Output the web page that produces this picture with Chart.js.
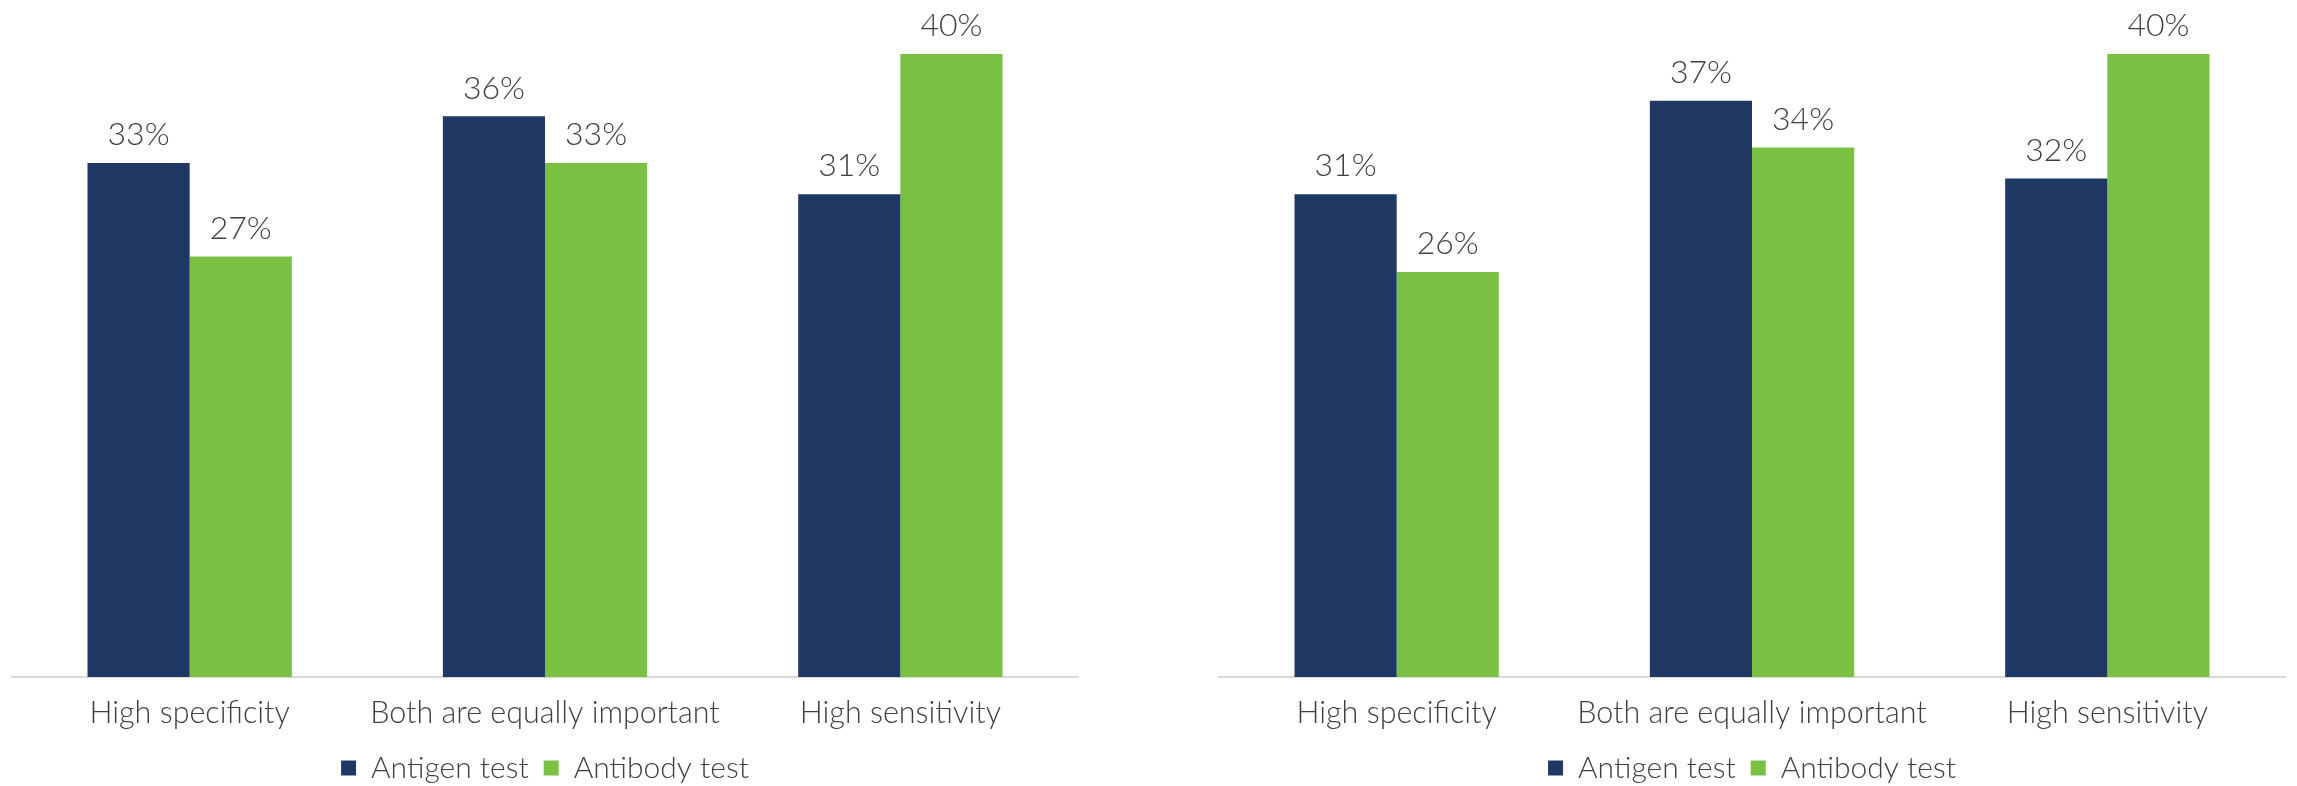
<!DOCTYPE html>
<html lang="en">
<head>
    <meta charset="UTF-8">
    <title>Antigen vs antibody test</title>
    <script src="https://cdn.jsdelivr.net/npm/chart.js"></script>
    <style>
        body { margin: 0; background: #fff; }
        .box { position: absolute; top: 0; height: 786px; }
    </style>
</head>
<body>
    <div class="box" style="left: 0; width: 1090px;"><canvas id="chartLeft"></canvas></div>
    <div class="box" style="left: 1207px; width: 1090px;"><canvas id="chartRight"></canvas></div>

    <script>
        const categories = ['High specificity', 'Both are equally important', 'High sensitivity'];
        const seriesNames = ['Antigen test', 'Antibody test'];

        // left panel
        const leftAntigen = [33, 36, 31];
        const leftAntibody = [27, 33, 40];
        // right panel
        const rightAntigen = [31, 37, 32];
        const rightAntibody = [26, 34, 40];

        const NAVY = '#1f3864';
        const GREEN = '#7ac143';
        const TEXT = '#404040';
        const FONT = 'Lato, "Open Sans", sans-serif';

        // draws the % above each bar
        const valueLabels = {
            id: 'valueLabels',
            afterDatasetsDraw(chart) {
                const ctx = chart.ctx;
                ctx.save();
                ctx.font = '300 32px ' + FONT;
                ctx.fillStyle = TEXT;
                ctx.textAlign = 'center';
                ctx.textBaseline = 'bottom';
                chart.data.datasets.forEach((ds, i) => {
                    chart.getDatasetMeta(i).data.forEach((bar, j) => {
                        ctx.fillText(ds.data[j] + '%', bar.x, bar.y - 12);
                    });
                });
                ctx.restore();
            }
        };

        function makeChart(id, antigen, antibody) {
            return new Chart(document.getElementById(id), {
                type: 'bar',
                data: {
                    labels: categories,
                    datasets: [
                        { label: seriesNames[0], data: antigen, backgroundColor: NAVY },
                        { label: seriesNames[1], data: antibody, backgroundColor: GREEN }
                    ]
                },
                options: {
                    responsive: true,
                    maintainAspectRatio: false,
                    animation: false,
                    layout: { padding: { top: 54, left: 12, right: 12, bottom: -7 } },
                    datasets: { bar: { barPercentage: 1, categoryPercentage: 0.575 } },
                    scales: {
                        x: {
                            grid: { display: false, drawTicks: false },
                            border: { color: '#d9d9d9', width: 2 },
                            ticks: {
                                color: TEXT, padding: 18, maxRotation: 0, minRotation: 0, autoSkip: false,
                                font: { family: FONT, size: 30.5, weight: 300 }
                            },
                            afterFit(scale) { scale.height = 61; }
                        },
                        y: { display: false, min: 0, max: 40 }
                    },
                    plugins: {
                        legend: {
                            position: 'bottom',
                            labels: {
                                color: TEXT,
                                boxWidth: 15,
                                boxHeight: 15,
                                padding: 15,
                                font: { family: FONT, size: 30, weight: 300 }
                            }
                        },
                        tooltip: { enabled: false }
                    }
                },
                plugins: [valueLabels]
            });
        }

        makeChart('chartLeft', leftAntigen, leftAntibody);
        makeChart('chartRight', rightAntigen, rightAntibody);
    </script>
</body>
</html>
